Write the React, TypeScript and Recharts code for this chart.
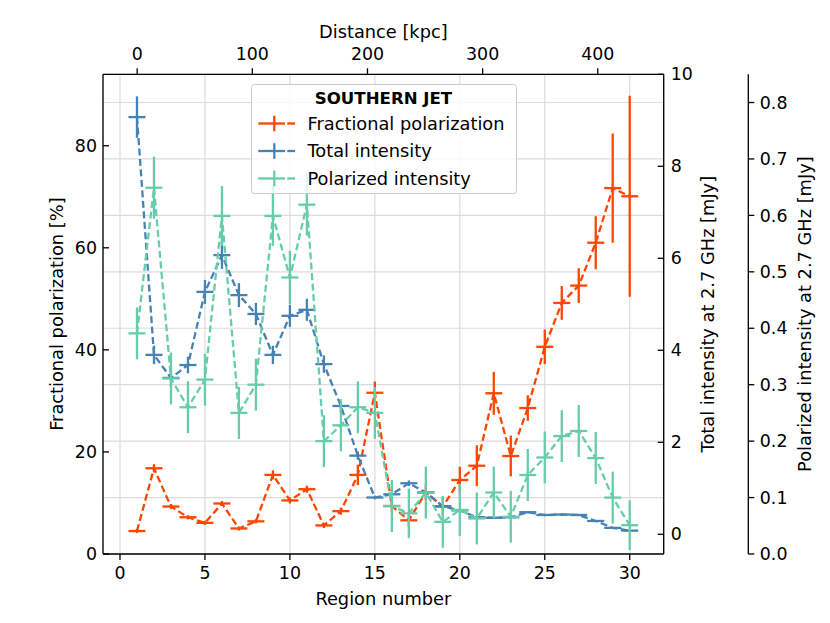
import React from 'react';
import { ComposedChart, Line, Scatter, XAxis, YAxis, CartesianGrid, ErrorBar, Legend } from 'recharts';

const regions = [1, 2, 3, 4, 5, 6, 7, 8, 9, 10, 11, 12, 13, 14, 15, 16, 17, 18, 19, 20, 21, 22, 23, 24, 25, 26, 27, 28, 29, 30];
const regionHalfWidth = [0.5, 0.5, 0.5, 0.5, 0.5, 0.5, 0.5, 0.5, 0.5, 0.5, 0.5, 0.5, 0.5, 0.5, 0.5, 0.5, 0.5, 0.5, 0.5, 0.5, 0.5, 0.5, 0.5, 0.5, 0.5, 0.5, 0.5, 0.5, 0.5, 0.5];

const fractionalPolarization = [4.5, 16.8, 9.3, 7.2, 6.1, 9.9, 5.0, 6.4, 15.5, 10.5, 12.7, 5.6, 8.4, 15.5, 31.6, 9.4, 6.6, 12.1, 9.3, 14.5, 17.3, 31.5, 19.2, 28.6, 40.6, 49.2, 52.6, 61.0, 71.7, 70.1];
const fractionalPolarizationErr = [0.4, 0.8, 0.5, 0.4, 0.4, 0.5, 0.4, 0.4, 0.9, 0.6, 0.7, 0.5, 0.7, 2.0, 2.2, 1.2, 1.3, 1.5, 1.8, 2.6, 4.0, 4.2, 4.0, 2.5, 3.4, 3.3, 3.4, 5.2, 10.7, 19.7];

const totalIntensity = [9.07, 3.9, 3.4, 3.68, 5.27, 6.07, 5.2, 4.79, 3.9, 4.75, 4.88, 3.7, 2.79, 1.71, 0.8, 0.87, 1.11, 0.91, 0.61, 0.52, 0.37, 0.36, 0.37, 0.48, 0.42, 0.43, 0.42, 0.29, 0.14, 0.08];
const totalIntensityErr = [0.45, 0.2, 0.17, 0.18, 0.26, 0.3, 0.26, 0.24, 0.2, 0.24, 0.24, 0.19, 0.14, 0.09, 0.04, 0.04, 0.06, 0.05, 0.03, 0.03, 0.02, 0.02, 0.02, 0.02, 0.02, 0.02, 0.02, 0.01, 0.01, 0.01];

const polarizedIntensity = [0.391, 0.649, 0.311, 0.26, 0.309, 0.599, 0.25, 0.3, 0.599, 0.49, 0.619, 0.2, 0.228, 0.26, 0.25, 0.085, 0.072, 0.109, 0.057, 0.078, 0.063, 0.109, 0.066, 0.14, 0.171, 0.209, 0.218, 0.17, 0.1, 0.051];
const polarizedIntensityErr = [0.046, 0.055, 0.046, 0.046, 0.046, 0.053, 0.046, 0.046, 0.053, 0.047, 0.055, 0.046, 0.046, 0.046, 0.046, 0.046, 0.044, 0.046, 0.046, 0.046, 0.046, 0.046, 0.046, 0.046, 0.046, 0.046, 0.046, 0.046, 0.046, 0.044];

const regionTicks = [0, 5, 10, 15, 20, 25, 30];
const distanceTicks = [0, 100, 200, 300, 400];
const fracTicks = [0, 20, 40, 60, 80];
const totalTicks = [0, 2, 4, 6, 8, 10];
const polTicks = [0, 0.1, 0.2, 0.3, 0.4, 0.5, 0.6, 0.7, 0.8];

// secondary axis conversion: region number <-> projected distance in kpc
const distanceZeroRegion = 1.012;
const kpcPerRegion = 14.756;
const kpcToRegion = (kpc: number) => distanceZeroRegion + kpc / kpcPerRegion;
const regionToKpc = (r: number) => Math.round((r - distanceZeroRegion) * kpcPerRegion);

const legendTitle = 'SOUTHERN JET';
const seriesNames = ['Fractional polarization', 'Total intensity', 'Polarized intensity'];
const seriesColors = ['#FF4500', '#4682B4', '#66CDAA'];

const data = regions.map((r, i) => ({
  region: r,
  xErr: regionHalfWidth[i],
  fp: fractionalPolarization[i],
  fpErr: fractionalPolarizationErr[i],
  ti: totalIntensity[i],
  tiErr: totalIntensityErr[i],
  pi: polarizedIntensity[i],
  piErr: polarizedIntensityErr[i],
}));

const FONT = '"DejaVu Sans", sans-serif';
const TICK_FS = 17.4;
const LABEL_FS = 17.8;
const LW = 2.3;
const DASH = '7 3.5';

const tickStyle = { fill: '#000', fontSize: TICK_FS, fontFamily: FONT };
const lineStyle = { stroke: '#000', strokeWidth: 1.3 };

const noShape = () => <g />;

const vLabel = (text: string, baseDx: number) => (props: any) => {
  const vb = props.viewBox || {};
  const x = vb.x + baseDx;
  const y = vb.y + vb.height / 2;
  return (
    <text x={x} y={y} transform={`rotate(-90 ${x} ${y})`} textAnchor="middle" fontSize={LABEL_FS} fontFamily={FONT} fill="#000">
      {text}
    </text>
  );
};

const hLabel = (text: string, baseDy: number) => (props: any) => {
  const vb = props.viewBox || {};
  const x = vb.x + vb.width / 2;
  const y = vb.y + baseDy;
  return (
    <text x={x} y={y} textAnchor="middle" fontSize={LABEL_FS} fontFamily={FONT} fill="#000">
      {text}
    </text>
  );
};

const renderLegend = () => {
  const baselines = [45.5, 73, 100.5];
  return (
    <svg width={266} height={110} style={{ display: 'block' }}>
      <rect x={0.5} y={0.5} width={265} height={109} rx={3} ry={3} fill="#fff" fillOpacity={0.8} stroke="#cccccc" strokeWidth={1} />
      <text x={132.5} y={19.5} textAnchor="middle" fontSize={16.6} fontWeight="bold" fontFamily={FONT} fill="#000">
        {legendTitle}
      </text>
      {seriesNames.map((name, i) => {
        const cy = baselines[i] - 6;
        const c = seriesColors[i];
        return (
          <g key={name}>
            <line x1={7.3} x2={34} y1={cy} y2={cy} stroke={c} strokeWidth={LW} />
            <line x1={23.3} x2={23.3} y1={cy - 7.8} y2={cy + 7.8} stroke={c} strokeWidth={LW} />
            <line x1={36.3} x2={44} y1={cy} y2={cy} stroke={c} strokeWidth={LW} />
            <text x={56.5} y={baselines[i]} fontSize={LABEL_FS} fontFamily={FONT} fill="#000">
              {name}
            </text>
          </g>
        );
      })}
    </svg>
  );
};

export default function App() {
  return (
    <div style={{ width: 822, height: 612 }}>
      <ComposedChart width={822} height={612} data={data} margin={{ top: 0, right: 11.7, bottom: 0, left: 0 }}>
        <CartesianGrid xAxisId="bottom" yAxisId="r2pol" stroke="#dcdcdc" strokeWidth={1.2} />
        <XAxis
          xAxisId="bottom"
          dataKey="region"
          type="number"
          orientation="bottom"
          domain={[-1, 32]}
          allowDataOverflow
          ticks={regionTicks}
          interval={0}
          height={66}
          tickSize={6}
          tickMargin={7}
          tick={tickStyle}
          axisLine={lineStyle}
          tickLine={lineStyle}
          label={hLabel('Region number', 51)}
        />
        <XAxis
          xAxisId="top"
          dataKey="region"
          type="number"
          orientation="top"
          domain={[-1, 32]}
          allowDataOverflow
          ticks={distanceTicks.map(kpcToRegion)}
          tickFormatter={(v: number) => String(regionToKpc(v))}
          interval={0}
          height={66.3}
          tickSize={6}
          tickMargin={8}
          tick={tickStyle}
          axisLine={lineStyle}
          tickLine={lineStyle}
          label={hLabel('Distance [kpc]', 29.7)}
        />
        <YAxis
          yAxisId="fp"
          orientation="left"
          type="number"
          domain={[0, 94]}
          allowDataOverflow
          ticks={fracTicks}
          interval={0}
          width={95}
          tickSize={-6}
          tickMargin={12}
          tick={tickStyle}
          axisLine={lineStyle}
          tickLine={lineStyle}
          label={vLabel('Fractional polarization [%]', 54.7)}
        />
        <YAxis
          yAxisId="r1tot"
          orientation="right"
          type="number"
          domain={[-0.428, 10]}
          allowDataOverflow
          ticks={totalTicks}
          interval={0}
          width={84.6}
          tickSize={-6}
          tickMargin={13}
          tick={tickStyle}
          axisLine={lineStyle}
          tickLine={lineStyle}
          label={vLabel('Total intensity at 2.7 GHz [mJy]', 50.6)}
        />
        <YAxis
          yAxisId="r2pol"
          orientation="right"
          type="number"
          domain={[0, 0.85]}
          allowDataOverflow
          ticks={polTicks}
          interval={0}
          width={70}
          tickSize={6}
          tickMargin={5.5}
          tick={tickStyle}
          tickFormatter={(v: number) => v.toFixed(1)}
          axisLine={lineStyle}
          tickLine={lineStyle}
          label={vLabel('Polarized intensity at 2.7 GHz [mJy]', 62.4)}
        />

        <Line xAxisId="bottom" yAxisId="fp" type="linear" dataKey="fp" stroke={seriesColors[0]} strokeWidth={LW} strokeDasharray={DASH} dot={false} activeDot={false} isAnimationActive={false} />
        <Scatter xAxisId="bottom" yAxisId="fp" dataKey="fp" fill={seriesColors[0]} shape={noShape} isAnimationActive={false}>
          <ErrorBar dataKey="xErr" direction="x" width={0} stroke={seriesColors[0]} strokeWidth={LW} isAnimationActive={false} />
          <ErrorBar dataKey="fpErr" direction="y" width={0} stroke={seriesColors[0]} strokeWidth={LW} isAnimationActive={false} />
        </Scatter>

        <Line xAxisId="bottom" yAxisId="r1tot" type="linear" dataKey="ti" stroke={seriesColors[1]} strokeWidth={LW} strokeDasharray={DASH} dot={false} activeDot={false} isAnimationActive={false} />
        <Scatter xAxisId="bottom" yAxisId="r1tot" dataKey="ti" fill={seriesColors[1]} shape={noShape} isAnimationActive={false}>
          <ErrorBar dataKey="xErr" direction="x" width={0} stroke={seriesColors[1]} strokeWidth={LW} isAnimationActive={false} />
          <ErrorBar dataKey="tiErr" direction="y" width={0} stroke={seriesColors[1]} strokeWidth={LW} isAnimationActive={false} />
        </Scatter>

        <Line xAxisId="bottom" yAxisId="r2pol" type="linear" dataKey="pi" stroke={seriesColors[2]} strokeWidth={LW} strokeDasharray={DASH} dot={false} activeDot={false} isAnimationActive={false} />
        <Scatter xAxisId="bottom" yAxisId="r2pol" dataKey="pi" fill={seriesColors[2]} shape={noShape} isAnimationActive={false}>
          <ErrorBar dataKey="xErr" direction="x" width={0} stroke={seriesColors[2]} strokeWidth={LW} isAnimationActive={false} />
          <ErrorBar dataKey="piErr" direction="y" width={0} stroke={seriesColors[2]} strokeWidth={LW} isAnimationActive={false} />
        </Scatter>

        <Legend
          content={renderLegend}
          layout="vertical"
          align="center"
          verticalAlign="middle"
          wrapperStyle={{ left: 243, top: 76, width: 266, height: 110 }}
        />
      </ComposedChart>
    </div>
  );
}
